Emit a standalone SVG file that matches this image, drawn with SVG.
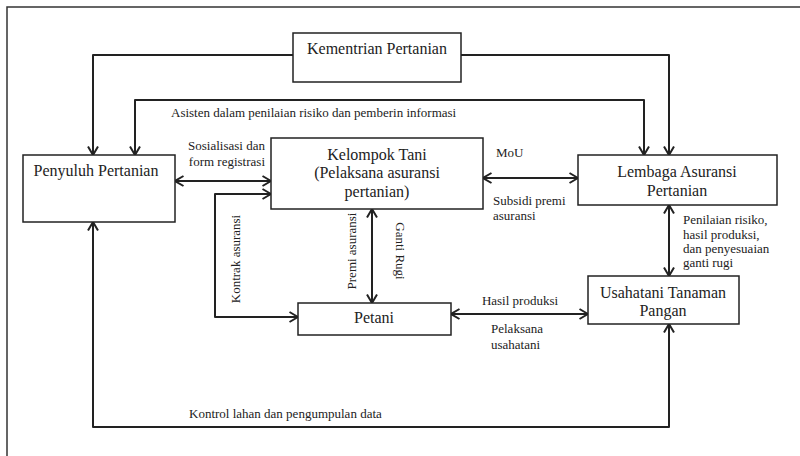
<svg xmlns="http://www.w3.org/2000/svg" width="800" height="456" viewBox="0 0 800 456" font-family="'Liberation Serif', 'DejaVu Serif', serif">
<defs>
<style>
.box{fill:#fff;stroke:#222;stroke-width:1.5}
.c{fill:none;stroke:#222;stroke-width:2;stroke-linejoin:round}
.a1{marker-end:url(#ah)}
.a2{marker-start:url(#ah);marker-end:url(#ah)}
.t{font-family:'Liberation Serif', serif;font-size:16px;fill:#222;text-anchor:middle}
.l{font-family:'Liberation Serif', serif;font-size:13px;fill:#222}
</style>
<marker id="ah" viewBox="0 0 10 12" refX="9.5" refY="6" markerWidth="10" markerHeight="12" markerUnits="userSpaceOnUse" orient="auto-start-reverse">
<path d="M1,1 L9.5,6 L1,11" fill="none" stroke="#222" stroke-width="2" stroke-linejoin="miter"/>
</marker>
</defs>
<rect x="0" y="0" width="800" height="456" fill="#fff"/>
<rect x="7" y="7" width="800" height="460" fill="none" stroke="#333" stroke-width="1.5"/>

<g id="connectors">
<path class="c a1" d="M293,55 H93 V155"/>
<path class="c a1" d="M461,55 H669 V155"/>
<path class="c a2" d="M135,155 V100 H644 V155"/>
<path class="c a2" d="M175,181 H271"/>
<path class="c a2" d="M271,194 H215 V317 H298"/>
<path class="c a2" d="M483,178 H578"/>
<path class="c a2" d="M372,209 V303"/>
<path class="c a2" d="M669,205 V276"/>
<path class="c a2" d="M451,314 H588"/>
<path class="c a2" d="M93,222 V427 H669 V324"/>
<text class="l" x="171" y="117">Asisten dalam penilaian risiko dan pemberin informasi</text>
<text class="l" x="265" y="150" text-anchor="end">Sosialisasi dan</text>
<text class="l" x="265" y="166" text-anchor="end">form registrasi</text>
<text class="l" x="496" y="157">MoU</text>
<text class="l" x="493" y="205">Subsidi premi</text>
<text class="l" x="493" y="220">asuransi</text>
<text class="l" x="683" y="224">Penilaian risiko,</text>
<text class="l" x="683" y="239">hasil produksi,</text>
<text class="l" x="683" y="253">dan penyesuaian</text>
<text class="l" x="683" y="267">ganti rugi</text>
<text class="l" x="520" y="305" text-anchor="middle">Hasil produksi</text>
<text class="l" x="491" y="333">Pelaksana</text>
<text class="l" x="491" y="349">usahatani</text>
<text class="l" x="189" y="418">Kontrol lahan dan pengumpulan data</text>
<text class="l" text-anchor="middle" transform="translate(240,259) rotate(-90)">Kontrak asuransi</text>
<text class="l" text-anchor="middle" transform="translate(356,251) rotate(-90)">Premi asuransi</text>
<text class="l" text-anchor="middle" transform="translate(396,251) rotate(90)">Ganti Rugi</text>
</g>

<g id="kementrian">
<rect class="box" x="293" y="33" width="168" height="49"/>
<text class="t" x="377" y="54">Kementrian Pertanian</text>
</g>
<g id="penyuluh">
<rect class="box" x="23" y="155" width="152" height="67"/>
<text class="t" x="96" y="176">Penyuluh Pertanian</text>
</g>
<g id="kelompok">
<rect class="box" x="271" y="138" width="212" height="71"/>
<text class="t" x="377" y="160">Kelompok Tani</text>
<text class="t" x="377" y="178">(Pelaksana asuransi</text>
<text class="t" x="377" y="197">pertanian)</text>
</g>
<g id="lembaga">
<rect class="box" x="578" y="155" width="199" height="50"/>
<text class="t" x="677" y="177">Lembaga Asuransi</text>
<text class="t" x="677" y="196">Pertanian</text>
</g>
<g id="petani">
<rect class="box" x="298" y="303" width="153" height="32"/>
<text class="t" x="374" y="323">Petani</text>
</g>
<g id="usahatani">
<rect class="box" x="588" y="276" width="151" height="48"/>
<text class="t" x="663" y="298">Usahatani Tanaman</text>
<text class="t" x="663" y="316">Pangan</text>
</g>
</svg>
